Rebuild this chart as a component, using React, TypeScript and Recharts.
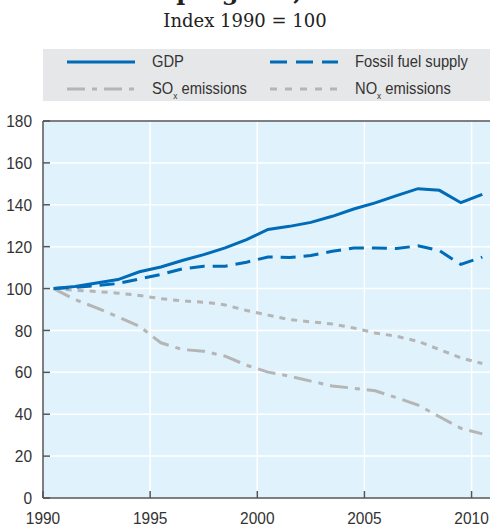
import { LineChart, Line, XAxis, YAxis, CartesianGrid, ReferenceLine } from 'recharts';

const years = [1990, 1991, 1992, 1993, 1994, 1995, 1996, 1997, 1998, 1999, 2000, 2001, 2002, 2003, 2004, 2005, 2006, 2007, 2008, 2009, 2010];
const gdp = [100, 101, 102.7, 104.3, 108, 110.3, 113.4, 116.2, 119.4, 123.4, 128.2, 129.7, 131.6, 134.5, 138, 140.9, 144.4, 147.7, 146.9, 141, 145];
const fossil = [100, 100.5, 101.4, 102.4, 104.6, 106.7, 109.4, 110.7, 110.7, 112.6, 115.1, 114.8, 115.8, 117.8, 119.4, 119.4, 119.1, 120.4, 118.1, 111.5, 115];
const sox = [100, 94.7, 90.8, 86.5, 82, 74.1, 70.9, 70.1, 67.7, 63.4, 60.1, 58.2, 55.8, 53.5, 52.4, 51.2, 47.9, 44.4, 38.8, 33.3, 30.6];
const nox = [100, 99.2, 98.6, 97.8, 96.7, 95.2, 94.1, 93.5, 92.2, 89.5, 87.3, 85.2, 84.1, 83.1, 81.2, 78.8, 77.2, 74.8, 70.9, 66.9, 64.2];

const xTicks = [1990, 1995, 2000, 2005, 2010];
const yTicks = [0, 20, 40, 60, 80, 100, 120, 140, 160, 180];

// annual values plotted at mid-year
const data = years.map((y, i) => ({ x: y + 0.5, gdp: gdp[i], fossil: fossil[i], sox: sox[i], nox: nox[i] }));

const BLUE = '#006bb6';
const GREY = '#b5b5b5';
const SANS = '"Liberation Sans", Arial, sans-serif';

// no narrow font installed, so squeeze the regular one a bit
const YTick = ({ x, y, payload }: any) => (
  <g transform={`translate(${x},${y}) scale(0.91,1)`}>
    <text textAnchor="end" dy="0.36em" fill="#333" fontSize={17} fontFamily={SANS}>{payload.value}</text>
  </g>
);

const XTick = ({ x, y, payload }: any) => (
  <g transform={`translate(${x},${y}) scale(0.91,1)`}>
    <text textAnchor="middle" dy="0.71em" fill="#333" fontSize={17} fontFamily={SANS}>{payload.value}</text>
  </g>
);

const Sample = ({ color, dash }: { color: string; dash?: string }) => (
  <svg width={68} height={6} style={{ position: 'absolute', left: 0, top: -3 }}>
    <line x1={0} y1={3} x2={68} y2={3} stroke={color} strokeWidth={3} strokeDasharray={dash} />
  </svg>
);

const Item = ({ left, top, color, dash, children }: any) => (
  <div style={{ position: 'absolute', left, top }}>
    <Sample color={color} dash={dash} />
    <div style={{ position: 'absolute', left: 85, top: -10, whiteSpace: 'nowrap', fontSize: 16, lineHeight: '20px', color: '#333', transform: 'scaleX(0.92)', transformOrigin: 'left center' }}>
      {children}
    </div>
  </div>
);

const sub = { fontSize: 9, verticalAlign: -5 };

export default function App() {
  return (
    <div style={{ position: 'fixed', left: 0, top: 0, width: 490, height: 524, overflow: 'hidden', background: '#fff' }}>
      <div style={{ position: 'absolute', left: 0, width: 490, top: -22, textAlign: 'center', fontFamily: '"DejaVu Serif", serif', fontWeight: 'bold', fontSize: 24, lineHeight: '28px', color: '#222' }}>
        Economic progress, 1990-2010
      </div>
      <div style={{ position: 'absolute', left: 0, width: 490, top: 9, textAlign: 'center', fontFamily: '"DejaVu Serif", serif', fontSize: 18, lineHeight: '24px', color: '#222' }}>
        Index 1990 = 100
      </div>
      <div style={{ position: 'absolute', left: 43, top: 49, width: 447, height: 52, background: '#e6e7e8', fontFamily: SANS }}>
        <Item left={24} top={13} color={BLUE}>GDP</Item>
        <Item left={227} top={13} color={BLUE} dash="17 9">Fossil fuel supply</Item>
        <Item left={24} top={40} color={GREY} dash="18 7 5 7">SO<span style={sub}>x</span> emissions</Item>
        <Item left={227} top={40} color={GREY} dash="7 8">NO<span style={sub}>x</span> emissions</Item>
      </div>
      <div style={{ position: 'absolute', left: 0, top: 0 }}>
        <LineChart width={520} height={540} data={data} margin={{ top: 121, right: 27, bottom: 12, left: 0 }}>
          <CartesianGrid fill="#e0f2fc" stroke="#ffffff" strokeWidth={1.5} horizontalValues={yTicks} verticalValues={xTicks} />
          <XAxis
            type="number"
            dataKey="x"
            domain={[1990, 2011]}
            ticks={xTicks}
            allowDataOverflow
            height={30}
            tickSize={-7}
            tickMargin={21}
            stroke="#555"
            strokeWidth={1.5}
            tick={<XTick />}
          />
          <YAxis
            type="number"
            domain={[0, 180]}
            ticks={yTicks}
            width={43}
            tickSize={-7}
            tickMargin={18}
            stroke="#555"
            strokeWidth={1.5}
            tick={<YTick />}
          />
          <ReferenceLine y={180} stroke="#555" strokeWidth={1.5} />
          <Line dataKey="nox" stroke={GREY} strokeWidth={3} strokeDasharray="6 6" dot={false} isAnimationActive={false} />
          <Line dataKey="sox" stroke={GREY} strokeWidth={3} strokeDasharray="18 7 5 7" dot={false} isAnimationActive={false} />
          <Line dataKey="fossil" stroke={BLUE} strokeWidth={3} strokeDasharray="15 8" dot={false} isAnimationActive={false} />
          <Line dataKey="gdp" stroke={BLUE} strokeWidth={3} dot={false} isAnimationActive={false} />
        </LineChart>
      </div>
    </div>
  );
}
